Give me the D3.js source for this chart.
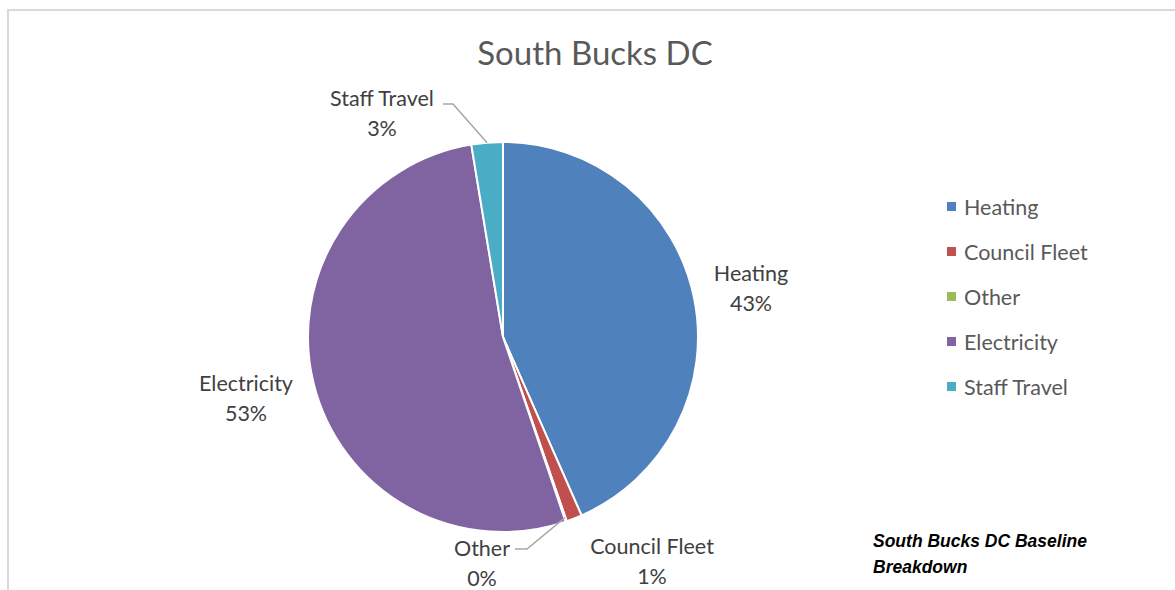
<!DOCTYPE html>
<html>
<head>
<meta charset="utf-8">
<script src="https://cdn.jsdelivr.net/npm/d3@7"></script>
<style>
  body { margin: 0; background: #fff; }
  svg { font-family: Lato, "Open Sans", sans-serif; }
</style>
</head>
<body>
<svg id="chart"></svg>
<script>
// Data
const categories = ['Heating', 'Council Fleet', 'Other', 'Electricity', 'Staff Travel'];
const values = [43.4, 1.3, 0.1, 52.6, 2.6];
const pctLabels = ['43%', '1%', '0%', '53%', '3%'];
const colors = ['#4F81BD', '#C0504D', '#9BBB59', '#8064A2', '#4BACC6'];

// Chart dimensions
const width = 1175;
const height = 590;
const cx = 503, cy = 337, radius = 195;

const svg = d3.select('#chart')
  .attr('width', width)
  .attr('height', height);

// Chart area border
svg.append('path')
  .attr('d', `M8,${height} V10 H${width}`)
  .attr('fill', 'none')
  .attr('stroke', '#d9d9d9')
  .attr('stroke-width', 2);

// Title
svg.append('text')
  .attr('x', 595)
  .attr('y', 65)
  .attr('text-anchor', 'middle')
  .attr('font-size', 33)
  .attr('fill', '#595959')
  .text('South Bucks DC');

// Pie
const pie = d3.pie().sort(null).value(d => d.value);
const arcs = pie(categories.map((c, i) => ({ name: c, value: values[i], label: pctLabels[i], color: colors[i] })));
const arc = d3.arc().innerRadius(0).outerRadius(radius);

const g = svg.append('g').attr('transform', `translate(${cx},${cy})`);
g.selectAll('path')
  .data(arcs)
  .enter().append('path')
  .attr('d', arc)
  .attr('fill', d => d.data.color)
  .attr('stroke', '#fff')
  .attr('stroke-width', 2);

// Data label positions (centre of the two-line label)
const labelPos = {
  'Heating': [751, 288],
  'Council Fleet': [652, 561],
  'Other': [482, 563],
  'Electricity': [246, 398],
  'Staff Travel': [382, 113]
};

const labels = svg.append('g').attr('font-size', 21.5).attr('fill', '#404040');
arcs.forEach(d => {
  const [x, y] = labelPos[d.data.name];
  const t = labels.append('text').attr('text-anchor', 'middle');
  t.append('tspan').attr('x', x).attr('y', y - 7).text(d.data.name);
  t.append('tspan').attr('x', x).attr('y', y + 23).text(d.data.label);
});

// Leader lines for the small slices
const leader = d3.line();
const edgePoint = (d, r) => {
  const a = (d.startAngle + d.endAngle) / 2;
  return [cx + Math.sin(a) * r, cy - Math.cos(a) * r];
};
const staff = arcs[4], other = arcs[2];
svg.append('path')
  .attr('d', leader([[443, 104], [453, 104], edgePoint(staff, radius)]))
  .attr('fill', 'none').attr('stroke', '#a6a6a6').attr('stroke-width', 1.5);
svg.append('path')
  .attr('d', leader([[515, 549], [527, 549], edgePoint(other, radius - 4)]))
  .attr('fill', 'none').attr('stroke', '#a6a6a6').attr('stroke-width', 1.5);

// Legend
const legend = svg.append('g').attr('font-size', 21.5).attr('fill', '#595959');
categories.forEach((c, i) => {
  const y = 207 + i * 45;
  legend.append('rect')
    .attr('x', 947).attr('y', y - 5)
    .attr('width', 9).attr('height', 9)
    .attr('fill', colors[i]);
  legend.append('text')
    .attr('x', 964).attr('y', y + 8)
    .text(c);
});

// Note
const note = svg.append('text')
  .attr('font-family', '"Liberation Sans", Arial, sans-serif')
  .attr('font-size', 17.5)
  .attr('font-weight', 'bold')
  .attr('font-style', 'italic')
  .attr('fill', '#000');
note.append('tspan').attr('x', 873).attr('y', 547).text('South Bucks DC Baseline');
note.append('tspan').attr('x', 873).attr('y', 573).text('Breakdown');
</script>
</body>
</html>
